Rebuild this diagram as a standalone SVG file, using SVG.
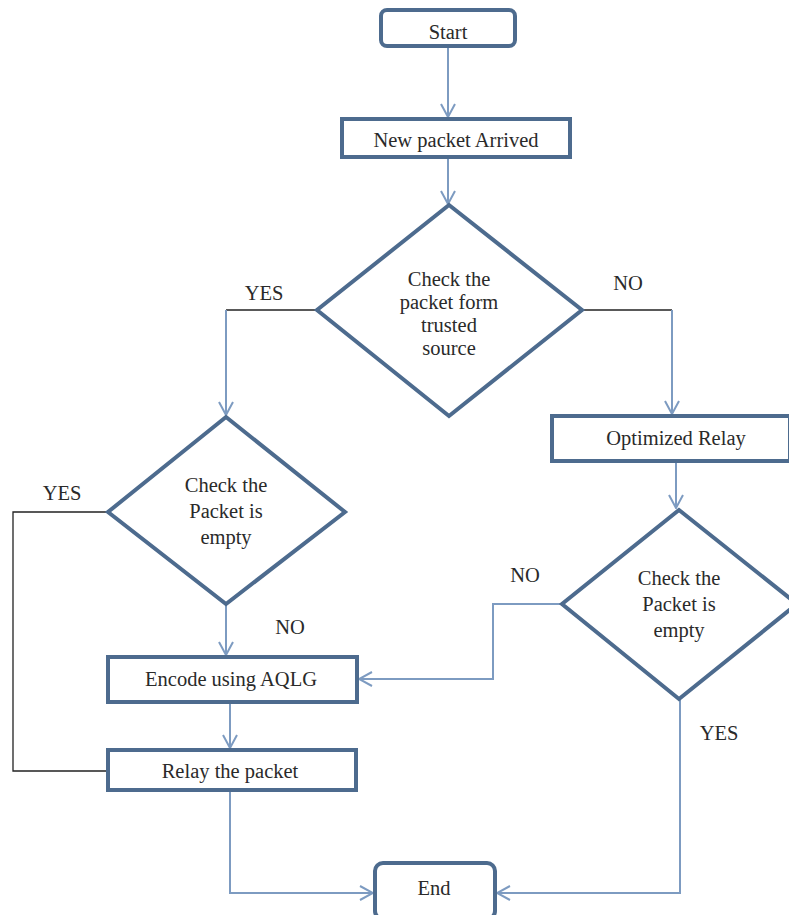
<svg xmlns="http://www.w3.org/2000/svg" width="789" height="915" viewBox="0 0 789 915">
<defs>
<style>
.box{fill:#fff;stroke:#4d6b8e;stroke-width:4}
.t{font-family:"Liberation Serif","Times New Roman",serif;font-size:20.5px;fill:#2a2a2a;text-anchor:middle}
.c{fill:none;stroke:#7d9bc1;stroke-width:2}
.k{fill:none;stroke:#222;stroke-width:1.3}
</style>
<marker id="a" viewBox="0 0 16 16" refX="15" refY="8" markerWidth="16" markerHeight="16" markerUnits="userSpaceOnUse" orient="auto">
<path d="M2,1 L15,8 L2,15" fill="none" stroke="#7d9bc1" stroke-width="2"/>
</marker>
</defs>
<rect width="789" height="915" fill="#fff"/>
<g id="connectors">
<path class="c" d="M448,47 V117" marker-end="url(#a)"/>
<path class="c" d="M448,158 V204" marker-end="url(#a)"/>
<path class="k" d="M317,310 H226"/>
<path class="c" d="M226,310 V415" marker-end="url(#a)"/>
<path class="k" d="M582,310 H672"/>
<path class="c" d="M672,310 V414" marker-end="url(#a)"/>
<path class="c" d="M676,462 V508" marker-end="url(#a)"/>
<path class="c" d="M562,604 H493 V679 H359" marker-end="url(#a)"/>
<path class="c" d="M680,699 V893 H497" marker-end="url(#a)"/>
<path class="k" d="M108,512 H13 V771 H108"/>
<path class="c" d="M226,604 V655" marker-end="url(#a)"/>
<path class="c" d="M230,704 V748" marker-end="url(#a)"/>
<path class="c" d="M230,791 V893 H373" marker-end="url(#a)"/>
</g>
<g id="labels">
<text class="t" x="264" y="300">YES</text>
<text class="t" x="628" y="290">NO</text>
<text class="t" x="62" y="500">YES</text>
<text class="t" x="290" y="634">NO</text>
<text class="t" x="525" y="582">NO</text>
<text class="t" x="719" y="740">YES</text>
</g>
<g id="start">
<rect class="box" x="381" y="10" width="134" height="36" rx="6"/>
<text class="t" x="448" y="39">Start</text>
</g>
<g id="newpacket">
<rect class="box" x="342" y="119" width="228" height="38"/>
<text class="t" x="456" y="147">New packet Arrived</text>
</g>
<g id="check1">
<polygon class="box" points="449,205 582,310 449,416 317,310"/>
<text class="t" x="449" y="286">Check the</text>
<text class="t" x="449" y="309">packet form</text>
<text class="t" x="449" y="332">trusted</text>
<text class="t" x="449" y="355">source</text>
</g>
<g id="optrelay">
<rect class="box" x="552" y="416" width="238" height="45"/>
<text class="t" x="676" y="445">Optimized Relay</text>
</g>
<g id="check3">
<polygon class="box" points="679,510 797,604 679,699 562,604"/>
<text class="t" x="679" y="585">Check the</text>
<text class="t" x="679" y="611">Packet is</text>
<text class="t" x="679" y="637">empty</text>
</g>
<g id="check2">
<polygon class="box" points="226,417 345,512 226,604 108,512"/>
<text class="t" x="226" y="492">Check the</text>
<text class="t" x="226" y="518">Packet is</text>
<text class="t" x="226" y="544">empty</text>
</g>
<g id="encode">
<rect class="box" x="108" y="657" width="249" height="45"/>
<text class="t" x="231" y="686">Encode using AQLG</text>
</g>
<g id="relay">
<rect class="box" x="108" y="750" width="248" height="40"/>
<text class="t" x="230" y="778">Relay the packet</text>
</g>
<g id="end">
<rect class="box" x="375" y="863" width="120" height="56" rx="8"/>
<text class="t" x="434" y="895">End</text>
</g>
</svg>
